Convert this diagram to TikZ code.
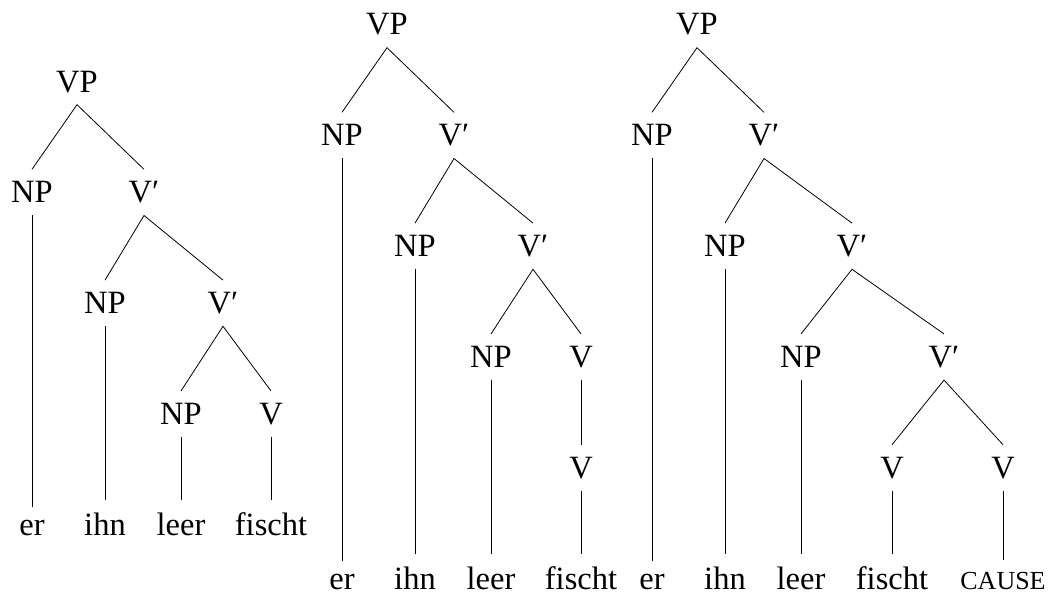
\documentclass[tikz,border=0pt]{standalone}
\usepackage{fontspec}
\setmainfont{Liberation Serif}
\begin{document}
\begin{tikzpicture}[x=1pt,y=-1pt,
  lab/.style={anchor=base, inner xsep=0pt, inner ysep=12pt,
    font=\fontsize{32.5}{37}\selectfont},
  branch/.style={draw, line width=0.8pt}]
\useasboundingbox (0,0) rectangle (1048,594);

% ---------- tree 1 ----------
\def\la{92}\def\lb{202.8}\def\lc{313.6}\def\ld{424.4}\def\le{535}
\node[lab] (a-vp)  at (77,\la)  {VP};
\node[lab] (a-np1) at (32,\lb)  {NP};
\node[lab] (a-vb1) at (144,\lb) {V′};
\node[lab] (a-np2) at (105,\lc) {NP};
\node[lab] (a-vb2) at (223,\lc) {V′};
\node[lab] (a-np3) at (181,\ld) {NP};
\node[lab] (a-v)   at (271,\ld) {V};
\node[lab] (a-er)  at (32,\le)  {er};
\node[lab] (a-ihn) at (105,\le) {ihn};
\node[lab] (a-leer) at (181,\le) {leer};
\node[lab] (a-fis) at (271,\le) {fischt};
\draw[branch] (a-np1.north) -- (a-vp.south) -- (a-vb1.north);
\draw[branch] (a-np2.north) -- (a-vb1.south) -- (a-vb2.north);
\draw[branch] (a-np3.north) -- (a-vb2.south) -- (a-v.north);
\draw[branch] (a-np1.south) -- (a-er.north);
\draw[branch] (a-np2.south) -- (a-ihn.north);
\draw[branch] (a-np3.south) -- (a-leer.north);
\draw[branch] (a-v.south) -- (a-fis.north);

% ---------- tree 2 ----------
\def\la{35}\def\lb{145.8}\def\lc{256.6}\def\ld{367.4}\def\le{478.2}\def\lf{589}
\node[lab] (b-vp)  at (387,\la) {VP};
\node[lab] (b-np1) at (342,\lb) {NP};
\node[lab] (b-vb1) at (454,\lb) {V′};
\node[lab] (b-np2) at (415,\lc) {NP};
\node[lab] (b-vb2) at (533,\lc) {V′};
\node[lab] (b-np3) at (491,\ld) {NP};
\node[lab] (b-v1)  at (581,\ld) {V};
\node[lab] (b-v2)  at (581,\le) {V};
\node[lab] (b-er)  at (342,\lf) {er};
\node[lab] (b-ihn) at (415,\lf) {ihn};
\node[lab] (b-leer) at (491,\lf) {leer};
\node[lab] (b-fis) at (581,\lf) {fischt};
\draw[branch] (b-np1.north) -- (b-vp.south) -- (b-vb1.north);
\draw[branch] (b-np2.north) -- (b-vb1.south) -- (b-vb2.north);
\draw[branch] (b-np3.north) -- (b-vb2.south) -- (b-v1.north);
\draw[branch] (b-v1.south) -- (b-v2.north);
\draw[branch] (b-np1.south) -- (b-er.north);
\draw[branch] (b-np2.south) -- (b-ihn.north);
\draw[branch] (b-np3.south) -- (b-leer.north);
\draw[branch] (b-v2.south) -- (b-fis.north);

% ---------- tree 3 ----------
\node[lab] (c-vp)  at (697,\la) {VP};
\node[lab] (c-np1) at (652,\lb) {NP};
\node[lab] (c-vb1) at (764,\lb) {V′};
\node[lab] (c-np2) at (725,\lc) {NP};
\node[lab] (c-vb2) at (852,\lc) {V′};
\node[lab] (c-np3) at (801,\ld) {NP};
\node[lab] (c-vb3) at (944,\ld) {V′};
\node[lab] (c-v1)  at (892,\le) {V};
\node[lab] (c-v2)  at (1003,\le) {V};
\node[lab] (c-er)  at (652,\lf) {er};
\node[lab] (c-ihn) at (725,\lf) {ihn};
\node[lab] (c-leer) at (801,\lf) {leer};
\node[lab] (c-fis) at (892,\lf) {fischt};
\node[lab, font=\fontsize{26}{30}\selectfont] (c-cause) at (1003,\lf) {CAUSE};
\draw[branch] (c-np1.north) -- (c-vp.south) -- (c-vb1.north);
\draw[branch] (c-np2.north) -- (c-vb1.south) -- (c-vb2.north);
\draw[branch] (c-np3.north) -- (c-vb2.south) -- (c-vb3.north);
\draw[branch] (c-v1.north) -- (c-vb3.south) -- (c-v2.north);
\draw[branch] (c-np1.south) -- (c-er.north);
\draw[branch] (c-np2.south) -- (c-ihn.north);
\draw[branch] (c-np3.south) -- (c-leer.north);
\draw[branch] (c-v1.south) -- (c-fis.north);
\draw[branch] (c-v2.south) -- (c-cause.north);
\end{tikzpicture}
\end{document}
